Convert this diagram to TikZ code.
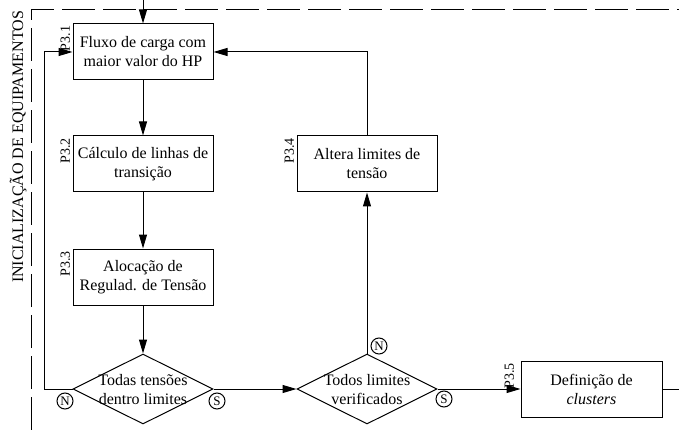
\documentclass[tikz,border=0pt]{standalone}
\usepackage{fontspec}
\setmainfont{Liberation Serif}
\usetikzlibrary{arrows.meta,shapes.geometric}
\newcommand{\boxfont}{\fontsize{16}{19}\selectfont}
\newcommand{\tagfont}{\fontsize{14}{16}\selectfont}
\newcommand{\markfont}{\fontsize{13}{15}\selectfont}
\begin{document}
\begin{tikzpicture}[x=1pt,y=-1pt,
  every path/.style={line width=1pt},
  stepbox/.style={draw,rectangle,minimum width=140pt,minimum height=56pt,inner sep=0pt,align=center,font=\boxfont},
  decision/.style={draw,diamond,minimum width=140pt,minimum height=70pt,inner sep=0pt},
  dectext/.style={align=center,font=\boxfont,inner sep=0pt},
  steptag/.style={rotate=90,anchor=south east,inner sep=2pt,font=\tagfont},
  answer/.style={draw,circle,minimum size=16pt,inner sep=0pt,font=\markfont},
  arr/.style={-{Triangle[length=14pt,width=8pt]}},
  frame/.style={dash pattern=on 33pt off 8pt}]
\useasboundingbox (0,0) rectangle (679,430);

% dashed frame of the equipment initialisation block
\coordinate (fb) at (31,430);
\coordinate (fc) at (31,10);
\coordinate (fr) at (679,10);
\draw[frame] (fb) -- (fc) -- (fr);
\node[rotate=90,anchor=base,inner sep=0pt,font=\boxfont] (blk) at (23,147) {INICIALIZAÇÃO DE EQUIPAMENTOS};

% process steps
\node[stepbox] (p31) at (143,52) {Fluxo de carga com\\maior valor do HP};
\node[stepbox] (p32) at (143,164) {Cálculo de linhas de\\transição};
\node[stepbox] (p33) at (143,277) {Alocação de\\Regulad. de Tensão};
\node[stepbox] (p34) at (367,164) {Altera limites de\\tensão};
\node[stepbox,minimum width=141pt] (p35) at (591.5,389) {Definição de\\\textit{clusters}};

% decisions
\node[decision] (d1) at (143,389) {};
\node[dectext] (d1t) at (143,390) {Todas tensões\\dentro limites};
\node[decision] (d2) at (367,389) {};
\node[dectext] (d2t) at (367,390) {Todos limites\\verificados};

% step tags
\node[steptag] (t31) at (p31.north west) {P3.1};
\node[steptag] (t32) at (p32.north west) {P3.2};
\node[steptag] (t33) at (p33.north west) {P3.3};
\node[steptag] (t34) at (p34.north west) {P3.4};
\node[steptag,yshift=4pt] (t35) at (p35.north west) {P3.5};

% answer marks
\node[answer] (n1) at (65,401) {N};
\node[answer] (s1) at (217,401) {S};
\node[answer] (n2) at (379,346) {N};
\node[answer] (s2) at (444,399) {S};

% connectors
\coordinate (in) at (143,0);
\coordinate (out) at (679,389);
\draw[arr] (in) -- (p31.north);
\draw[arr] (p31) -- (p32);
\draw[arr] (p32) -- (p33);
\draw[arr] (p33) -- (d1.north);
\draw[arr] (d1.west) -- ++(-28,0) |- (p31.west);
\draw[arr] (d1.east) -- (d2.west);
\draw[arr] (d2.north) -- (p34.south);
\draw[arr] (p34.north) |- (p31.east);
\draw[arr] (d2.east) -- (p35.west);
\draw (p35.east) -- (out);
\end{tikzpicture}
\end{document}
